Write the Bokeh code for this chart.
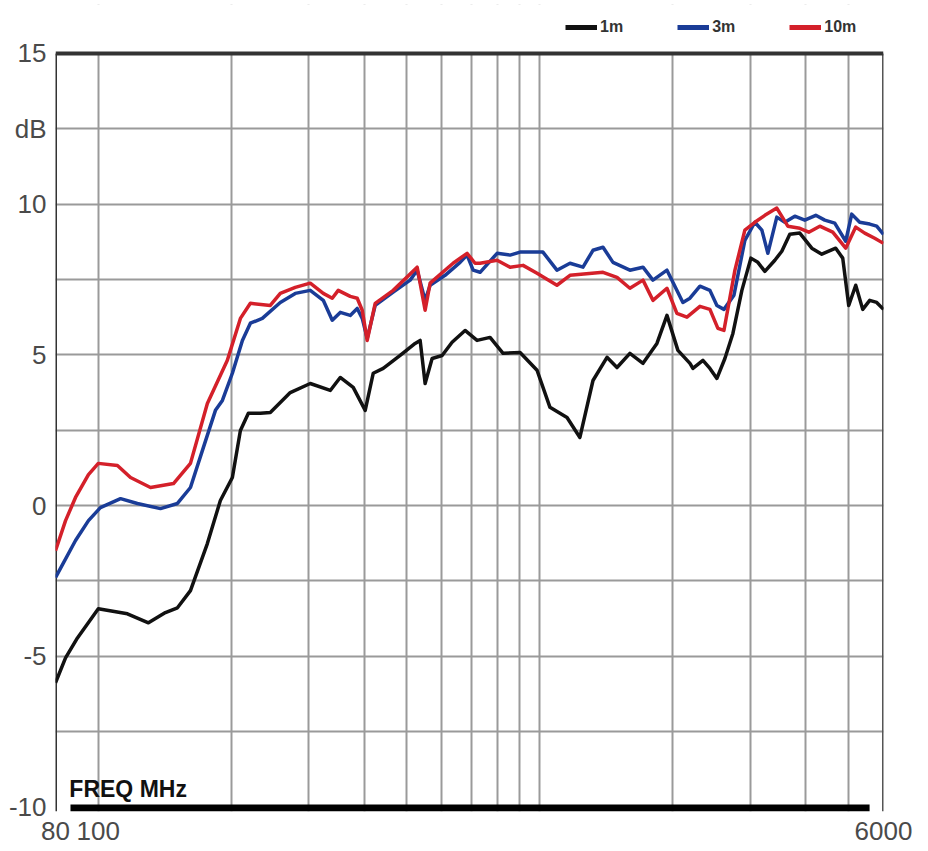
from bokeh.plotting import figure
from bokeh.models import (FixedTicker, NumeralTickFormatter, Span, Label, Legend,
                          LegendItem, BoxAnnotation)
from bokeh.embed import file_html
from bokeh.resources import INLINE

# ---------------- data (MHz, dB) ----------------
freq_1m = [80, 84.3, 89.7, 100, 116.4, 129.9, 141.9, 151.1, 161.7, 176.6, 189.0, 201.2,
           209.8, 218.7, 232.8, 245.2, 258.3, 272.1, 302, 335.2, 353.1, 377.8, 402.2,
           419.3, 441.8, 482.6, 521.8, 535.6, 549.7, 570.1, 600.6, 632.7, 677, 720.7,
           771.2, 825.4, 901.8, 985.3, 1054, 1152, 1232, 1319, 1419, 1495, 1599, 1712,
           1841, 1940, 2054, 2187, 2221, 2340, 2427, 2517, 2624, 2736, 2867, 3005, 3116,
           3232, 3405, 3531, 3681, 3878, 4128, 4349, 4677, 4851, 5005, 5191, 5384, 5584,
           5791, 6000]
db_1m = [-5.88, -5.05, -4.39, -3.42, -3.59, -3.89, -3.55, -3.39, -2.82, -1.26, 0.17, 0.93,
         2.49, 3.06, 3.06, 3.09, 3.42, 3.75, 4.05, 3.82, 4.25, 3.92, 3.16,
         4.39, 4.55, 4.98, 5.38, 5.48, 4.05, 4.88, 4.98, 5.42, 5.81, 5.48,
         5.58, 5.05, 5.08, 4.49, 3.26, 2.92, 2.26, 4.15, 4.92, 4.58, 5.05, 4.72,
         5.38, 6.31, 5.15, 4.72, 4.55, 4.82, 4.55, 4.22, 4.88, 5.71, 7.14, 8.21, 8.07,
         7.77, 8.14, 8.44, 9.0, 9.04, 8.54, 8.34, 8.54, 8.21, 6.64, 7.31, 6.51, 6.81,
         6.74, 6.51]

freq_3m = [80, 88.8, 95.0, 101.1, 112.3, 122.6, 138.3, 151.1, 161.7, 173.0, 184.2, 191,
           201.2, 212, 221, 235.2, 258.3, 279.3, 302, 323.2, 338.7, 353.1, 372, 385.8,
           396, 406.4, 423.7, 465.4, 508.4, 527.3, 549.7, 564.2, 610, 659.6, 684.1, 706.1,
           732.1, 800, 856, 901.8, 1016, 1093, 1170, 1252, 1319, 1390, 1464, 1599, 1712,
           1803, 1940, 2108, 2187, 2304, 2427, 2517, 2611, 2751, 2912, 3068, 3182, 3283,
           3440, 3587, 3778, 3980, 4215, 4417, 4653, 4927, 5084, 5300, 5584, 5791, 6000]
db_3m = [-2.39, -1.16, -0.5, -0.07, 0.23, 0.07, -0.1, 0.07, 0.6, 1.93, 3.16, 3.49,
         4.39, 5.48, 6.05, 6.21, 6.74, 7.04, 7.14, 6.81, 6.15, 6.41, 6.31, 6.54,
         6.21, 5.55, 6.64, 7.08, 7.48, 7.81, 6.81, 7.31, 7.64, 8.07, 8.31, 7.81,
         7.74, 8.37, 8.31, 8.41, 8.41, 7.81, 8.04, 7.91, 8.47, 8.57, 8.07, 7.81, 7.91,
         7.48, 7.81, 6.74, 6.88, 7.28, 7.14, 6.64, 6.51, 6.98, 8.8, 9.4, 9.14, 8.37,
         9.57, 9.4, 9.6, 9.47, 9.63, 9.47, 9.37, 8.77, 9.67, 9.4, 9.34, 9.27, 9.0]

freq_10m = [80, 84.3, 88.8, 95.0, 100, 110.5, 118.3, 131.3, 148.0, 161.7, 176.6, 196,
            209.8, 221, 245.2, 258.3, 279.3, 302, 323.2, 338.7, 349.4, 372, 385.8, 396,
            406.4, 423.7, 465.4, 527.3, 549.7, 564.2, 636, 684.1, 713.3, 732.1, 800, 856,
            916, 985.3, 1093, 1170, 1390, 1495, 1599, 1712, 1803, 1940, 2043, 2153, 2304,
            2427, 2530, 2611, 2765, 2912, 3068, 3232, 3440, 3643, 3878, 4064, 4304, 4605,
            4927, 5191, 5440, 5731, 6000]
db_10m = [-1.5, -0.5, 0.27, 1.03, 1.4, 1.33, 0.93, 0.6, 0.73, 1.4, 3.39, 4.82,
          6.21, 6.71, 6.64, 7.04, 7.24, 7.38, 7.04, 6.88, 7.14, 6.94, 6.88, 6.48,
          5.48, 6.71, 7.14, 7.91, 6.48, 7.38, 8.04, 8.37, 8.04, 8.04, 8.14, 7.91,
          7.97, 7.71, 7.31, 7.64, 7.74, 7.57, 7.21, 7.48, 6.81, 7.21, 6.38, 6.25, 6.61,
          6.51, 5.88, 5.81, 7.81, 9.14, 9.4, 9.63, 9.87, 9.27, 9.2, 9.07, 9.27, 9.07,
          8.54, 9.24, 9.04, 8.87, 8.7]

series_names = ["1m", "3m", "10m"]
series_colors = ["#111111", "#1a3c97", "#d4202a"]

y_min, y_max = -10, 15
y_ticks = [-10, -5, 0, 5, 10, 12.5, 15]
y_tick_labels = {-10: "-10", -5: "-5", 12.5: "dB"}
y_grid = [-7.5, -5, -2.5, 0, 2.5, 5, 7.5, 10, 12.5]
x_min, x_max = 80, 6000
x_ticks = [80, 100, 6000]
x_grid = [100, 200, 300, 400, 500, 600, 700, 800, 900, 1000, 2000, 3000, 4000, 5000]
x_label = "FREQ MHz"

FONT = "Liberation Sans"

# the frame reaches above the 15 dB line so that the legend can sit there
p = figure(width=920, height=850, x_axis_type="log", x_range=(x_min, x_max),
           y_range=(y_min - 0.15, y_max + 1.625), output_backend="svg",
           toolbar_location=None, min_border_left=55, min_border_right=37,
           min_border_top=4, min_border_bottom=39)
p.outline_line_color = None
p.background_fill_color = "white"

# grid
p.xgrid.ticker = FixedTicker(ticks=x_grid)
p.ygrid.ticker = FixedTicker(ticks=y_grid)
for g in (p.xgrid, p.ygrid):
    g.grid_line_color = "#9a9a9a"
    g.grid_line_width = 2

# axes
p.yaxis.ticker = FixedTicker(ticks=y_ticks)
p.yaxis.major_label_overrides = y_tick_labels
p.xaxis.ticker = FixedTicker(ticks=x_ticks)
p.xaxis.formatter = NumeralTickFormatter(format="0")
for ax in (p.xaxis, p.yaxis):
    ax.axis_line_color = None
    ax.major_tick_line_color = None
    ax.minor_tick_line_color = None
    ax.major_tick_out = 0
    ax.major_tick_in = 0
    ax.minor_tick_out = 0
    ax.major_label_text_font = FONT
    ax.major_label_text_font_size = "26px"
    ax.major_label_text_color = "#4a4a4a"
p.yaxis.major_label_standoff = 9
p.xaxis.major_label_standoff = 10

# blank strip above the chart area (hides grid there), then the frame lines
p.add_layout(BoxAnnotation(bottom=y_max, fill_color="white", fill_alpha=1,
                           line_color=None))
p.segment(x0=[x_min], y0=[y_min - 0.15], x1=[x_min], y1=[y_max],
          line_color="#333333", line_width=3)
p.segment(x0=[x_max], y0=[y_min - 0.15], x1=[x_max], y1=[y_max],
          line_color="#555555", line_width=3)
p.add_layout(Span(location=y_max, dimension="width", line_color="#333333", line_width=4))

# thick base bar
p.segment(x0=[86.5], y0=[-10.03], x1=[5580], y1=[-10.03], line_color="black", line_width=7)

# curves
for f, d, c in zip([freq_1m, freq_3m, freq_10m], [db_1m, db_3m, db_10m], series_colors):
    p.line(f, d, line_color=c, line_width=3.5, line_join="round")

# legend (thick proxy renderers, one off-range point each)
items = []
for name, c in zip(series_names, series_colors):
    r = p.line(x=[1000], y=[100], line_color=c, line_width=5)
    items.append(LegendItem(label=name, renderers=[r]))
legend = Legend(items=items, orientation="horizontal", location=(510, 775),
                glyph_width=32, glyph_height=12, label_standoff=3, spacing=54,
                padding=0, margin=0, border_line_color=None, background_fill_alpha=0,
                label_text_font=FONT, label_text_font_style="bold",
                label_text_font_size="16px", label_text_color="#333333")
p.add_layout(legend)

# axis caption inside the frame
p.add_layout(Label(x=86, y=-9.42, text=x_label, text_font=FONT, text_font_style="bold",
                   text_font_size="23px", text_color="#111111", text_baseline="alphabetic"))

open("out.html", "w").write(file_html(p, INLINE))
